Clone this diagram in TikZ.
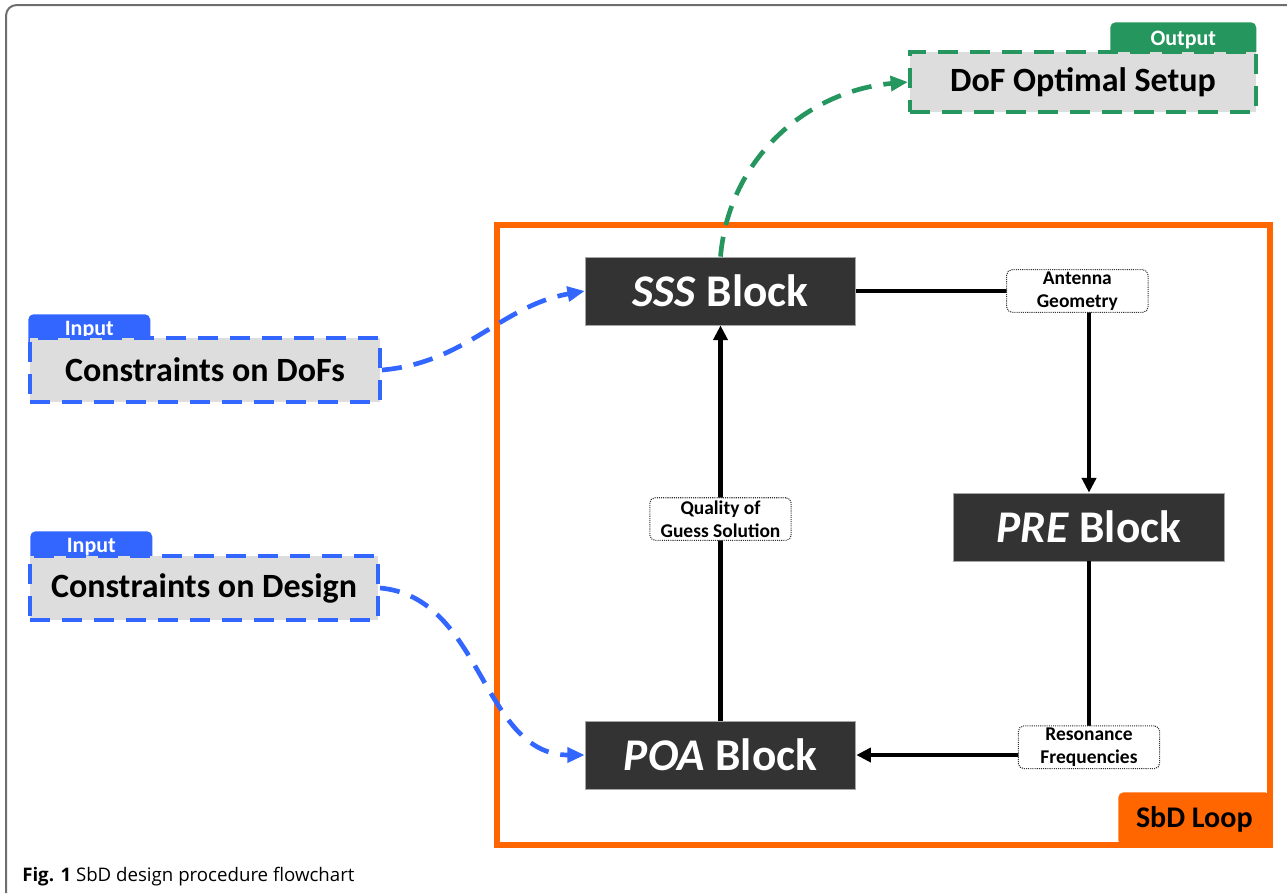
\documentclass[tikz,border=0pt]{standalone}
\usepackage{fontspec}
\setmainfont{Carlito}
\newfontfamily\capfont{Open Sans}
\usetikzlibrary{arrows.meta,positioning}

\definecolor{inblue}{RGB}{51,102,255}
\definecolor{outgreen}{RGB}{36,150,94}
\definecolor{looporange}{RGB}{255,102,0}
\definecolor{blockgray}{RGB}{51,51,51}
\definecolor{boxgray}{RGB}{221,221,221}
\definecolor{framegray}{RGB}{110,110,110}

\begin{document}
\begin{tikzpicture}[x=0.75pt,y=-0.75pt,
    blk/.style={fill=blockgray, draw=gray!70, line width=0.6pt, text=white, inner sep=0pt,
      minimum width=203pt, minimum height=51pt, font=\bfseries\fontsize{34}{40}\selectfont},
    io/.style={fill=boxgray, line width=3pt, dash pattern=on 15pt off 9pt, inner sep=0pt,
      minimum height=48pt, font=\bfseries\fontsize{25.5}{30}\selectfont},
    tab/.style={rounded corners=4pt, text=white, inner sep=0pt, anchor=north west,
      font=\bfseries\fontsize{16.5}{19}\selectfont},
    lbl/.style={draw=black!80, line width=0.8pt, dash pattern=on 0.8pt off 0.8pt, fill=white,
      rounded corners=4pt, align=center, inner sep=1pt, minimum width=106pt, minimum height=32pt,
      font=\bfseries\fontsize{14.6}{17}\selectfont},
    link/.style={line width=3.2pt, -{Triangle[length=11pt,width=10.5pt]}},
    feed/.style={line width=3.5pt, dash pattern=on 15pt off 9pt,
      -{Triangle[length=13pt,width=11pt]}}]

  \useasboundingbox (0,0) rectangle (1287,893);

  % frame of the figure
  \draw[framegray, line width=1.5pt, rounded corners=8pt] (6,893) -- (6,5) -- (1287,5);

  % loop box with its tab
  \node[tab, fill=looporange, text=black, minimum width=114pt, minimum height=40pt,
    font=\bfseries\fontsize{22.5}{26}\selectfont] (tabLoop) at (1118,792) {SbD Loop};
  \draw[looporange, line width=4pt] (497,225) rectangle (1270,845);

  % blocks of the loop
  \node[blk] (sss) at (720.5,291) {\textit{SSS} Block};
  \node[blk] (pre) at (1089,527) {\textit{PRE} Block};
  \node[blk] (poa) at (720.5,755) {\textit{POA} Block};

  % inputs
  \node[tab, fill=inblue, minimum width=91.5pt, minimum height=24pt] (tabA) at (28,314) {Input};
  \node[io, draw=inblue, minimum width=262.5pt] (dofs) at (205,370) {Constraints on DoFs};
  \node[tab, fill=inblue, minimum width=91.5pt, minimum height=24pt] (tabB) at (30,531) {Input};
  \node[io, draw=inblue, minimum width=261pt] (design) at (204,588) {Constraints on Design};

  % output
  \node[tab, fill=outgreen, minimum width=109.5pt, minimum height=26pt] (tabOut) at (1110,22) {Output};
  \node[io, draw=outgreen, minimum width=259.5pt, minimum height=45pt] (setup) at (1083,82) {DoF Optimal Setup};

  % loop connectors
  \draw[link] (sss.east) -| node[lbl, pos=0.475] (geom) {Antenna\\Geometry} (pre.north);
  \draw[link] (pre.south) |- node[lbl, pos=0.48] (freq) {Resonance\\Frequencies} (poa.east);
  \draw[link] (poa.north) -- node[lbl, pos=0.51] (qual) {Quality of\\Guess Solution} (sss.south);

  % inputs and output
  \draw[feed, inblue] (dofs.east) to[out=5, in=190] (sss.west);
  \draw[feed, inblue] (design.east) to[out=-5, in=180] (poa.west);
  \draw[feed, outgreen] (sss.north) to[out=85, in=185] (setup.west);

  % caption
  \node[anchor=base west, inner sep=0pt, font=\capfont\fontsize{14}{17}\selectfont] (caption)
    at (22,881) {\textbf{Fig. 1} SbD design procedure flowchart};
\end{tikzpicture}
\end{document}
